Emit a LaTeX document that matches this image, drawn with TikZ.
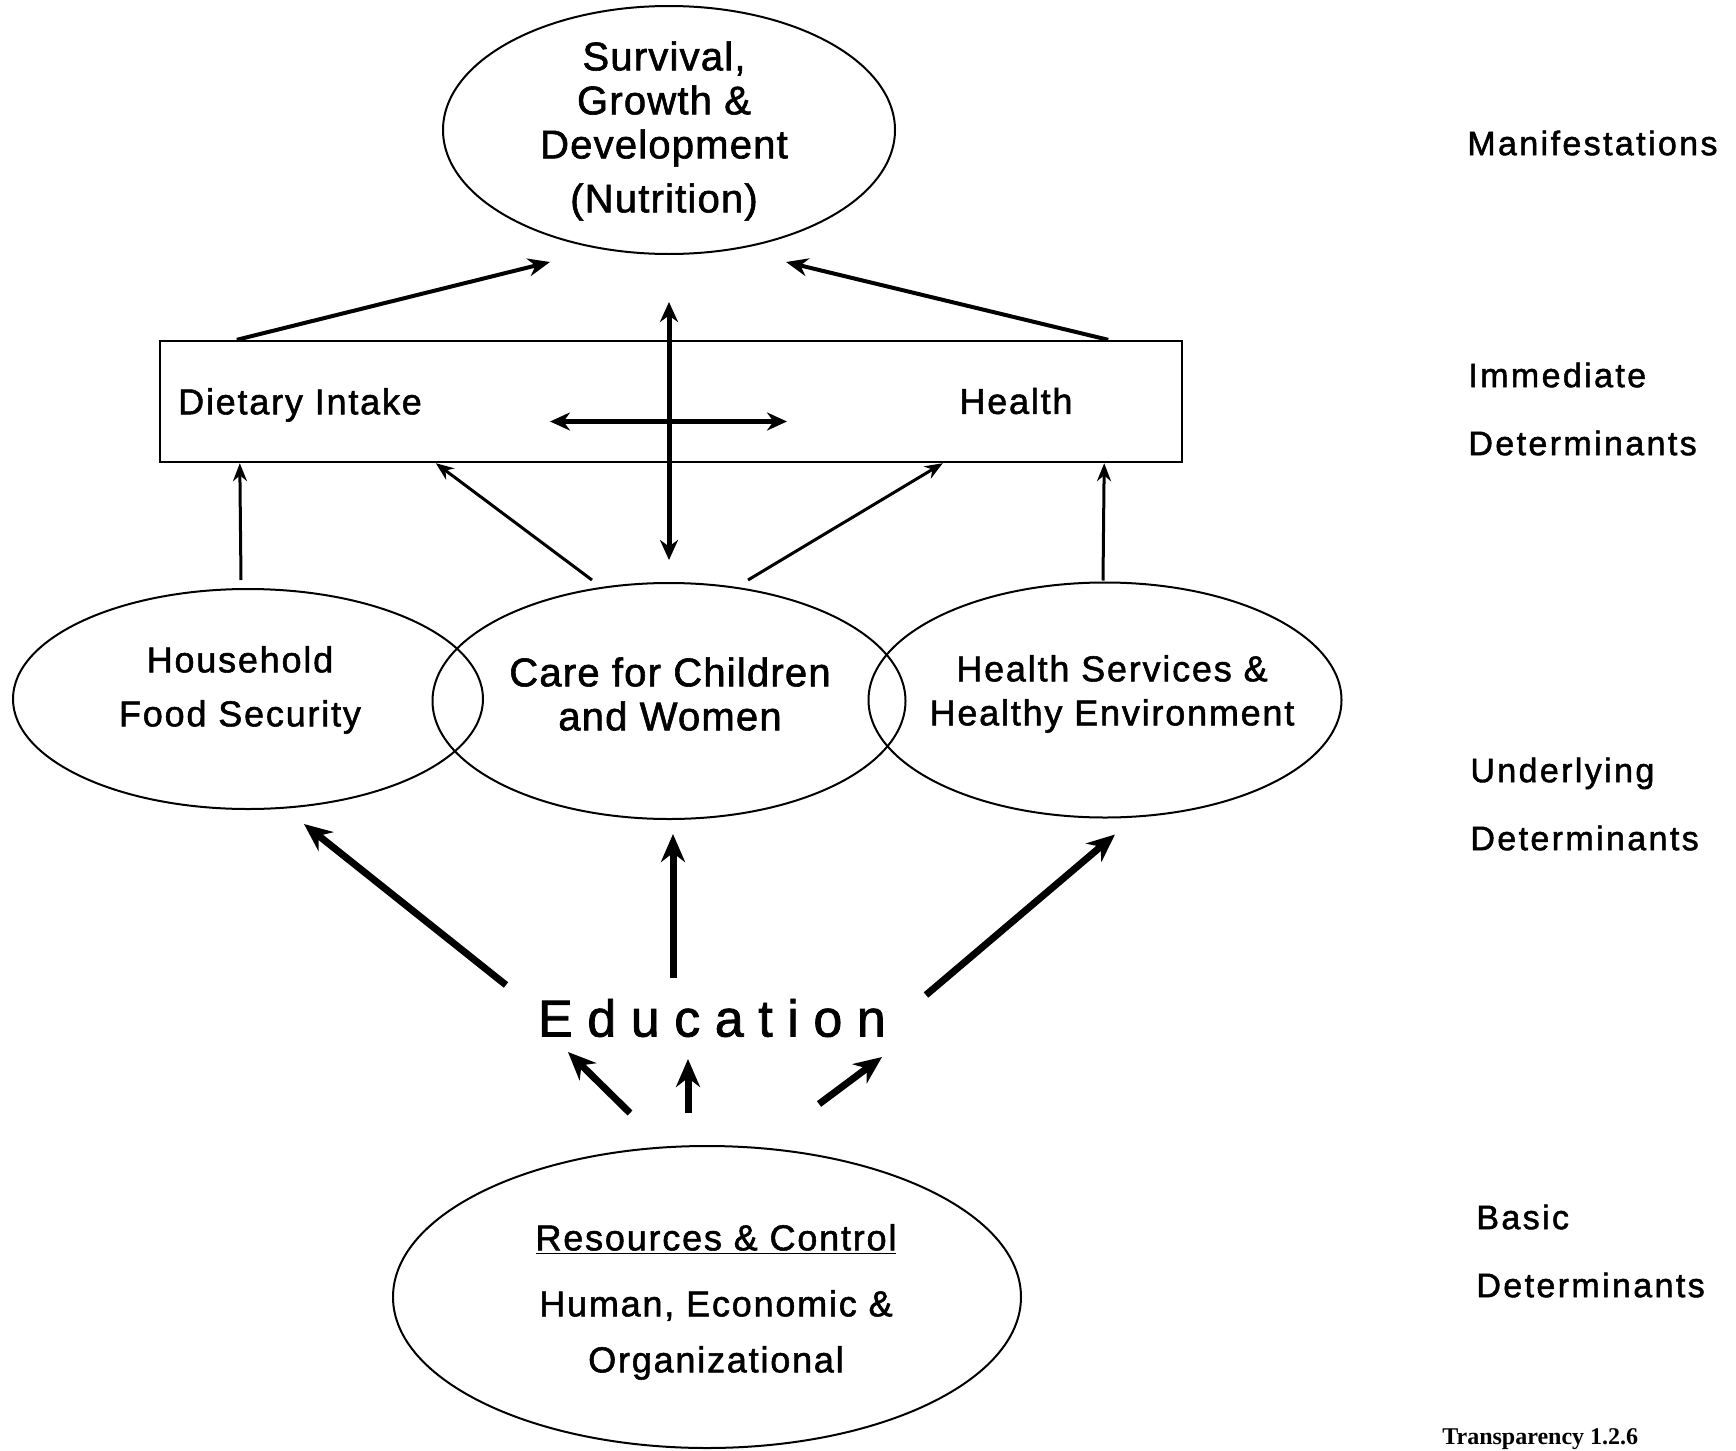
\documentclass[tikz,border=0pt]{standalone}
\usepackage{fontspec}
\setmainfont{Liberation Sans}
\newfontfamily\serifnote{Liberation Serif}
\usetikzlibrary{shapes.geometric,arrows.meta}

\begin{document}
\begin{tikzpicture}[x=0.5pt, y=-0.5pt,
  oval/.style={ellipse, draw, line width=1pt, inner sep=0pt},
  txt/.style={align=center, font=\fontsize{18}{22}\selectfont\addfontfeatures{LetterSpace=5,FakeBold=1.5}},
  bigtxt/.style={align=center, font=\fontsize{20}{22}\selectfont\addfontfeatures{LetterSpace=3,FakeBold=1.5}},
  lvltxt/.style={anchor=west, align=left, inner sep=0pt, font=\fontsize{17}{34}\selectfont\addfontfeatures{LetterSpace=7,FakeBold=1.5}},
  arr/.style={-{Stealth[length=11pt,width=9pt]}, line width=2pt},
  thinarr/.style={-{Stealth[length=9pt,width=7pt]}, line width=1.5pt},
  fatarr/.style={-{Stealth[length=14pt,width=12pt]}, line width=3.5pt},
  dblarr/.style={{Stealth[length=10pt,width=9pt]}-{Stealth[length=10pt,width=9pt]}, line width=2.5pt}]
  \useasboundingbox (0,0) rectangle (1736,1451);

  % Manifestations
  \node[oval, minimum width=226pt, minimum height=124pt] (top) at (669,130) {};
  \node[bigtxt] (toptxt) at (664,131) {Survival,\\Growth \&\\Development\\[5pt](Nutrition)};

  % Immediate determinants
  \node[draw, line width=1.2pt, inner sep=0pt, minimum width=511pt, minimum height=60.5pt] (imm) at (671,401.5) {};
  \node[txt] (diet) at (300,405) {Dietary Intake};
  \node[txt] (hlth) at (1016,401) {Health};

  % Underlying determinants
  \node[oval, minimum width=235pt, minimum height=110pt] (hfs) at (248,699) {};
  \node[oval, minimum width=236.5pt, minimum height=118pt] (care) at (669,701) {};
  \node[oval, minimum width=236.5pt, minimum height=117.5pt] (hse) at (1105,700) {};
  \node[txt] (hfstxt) at (240,690) {Household\\[5pt]Food Security};
  \node[bigtxt] (caretxt) at (670,694) {Care for Children\\and Women};
  \node[txt] (hsetxt) at (1112,694) {Health Services \&\\Healthy Environment};

  % Basic determinants
  \node[font=\fontsize{26}{26}\selectfont\addfontfeatures{LetterSpace=28,FakeBold=1.5}] (edu) at (712,1018) {Education};
  \node[oval, minimum width=314pt, minimum height=151pt] (res) at (707,1297) {};
  \node[txt] (restxt) at (716,1302) {\underline{Resources \& Control}\\[11pt]Human, Economic \&\\[6pt]Organizational};

  % Level labels
  \node[lvltxt] (manif) at (1467,143) {Manifestations};
  \node[lvltxt] (immlbl) at (1468,409) {Immediate\\Determinants};
  \node[lvltxt] (undlbl) at (1470,804) {Underlying\\Determinants};
  \node[lvltxt] (baslbl) at (1476,1251) {Basic\\Determinants};
  \node[anchor=west, inner sep=0pt, font=\serifnote\bfseries\fontsize{12}{14}\selectfont] (trans) at (1442,1439) {Transparency 1.2.6};

  % Arrows
  \draw[arr] ([xshift=39pt]imm.north west) -- ([xshift=-59.5pt,yshift=-3.5pt]top.south);
  \draw[arr] ([xshift=-37.5pt]imm.north east) -- ([xshift=58.5pt,yshift=-3.5pt]top.south);
  \draw[dblarr] ([yshift=11pt]care.north) -- ([yshift=-23.5pt]top.south);
  \draw[dblarr] ([xshift=-60.5pt,yshift=-10pt]imm.center) -- ([xshift=58pt,yshift=-10pt]imm.center);
  \draw[thinarr] ([xshift=-3.5pt,yshift=4pt]hfs.north) -- ([xshift=40.5pt]imm.south west);
  \draw[thinarr] ([xshift=-38.5pt,yshift=1pt]care.north) -- ([xshift=138.5pt]imm.south west);
  \draw[thinarr] ([xshift=39.5pt,yshift=1pt]care.north) -- ([xshift=392pt]imm.south west);
  \draw[thinarr] ([xshift=-1pt,yshift=0.5pt]hse.north) -- ([xshift=-39.5pt]imm.south east);
  \draw[fatarr] ([xshift=-103pt,yshift=16.5pt]edu.center) -- ([xshift=28pt,yshift=-7pt]hfs.south);
  \draw[fatarr] ([xshift=-19.5pt,yshift=20pt]edu.center) -- ([xshift=2pt,yshift=-7pt]care.south);
  \draw[fatarr] ([xshift=107pt,yshift=11.5pt]edu.center) -- ([xshift=5pt,yshift=-8pt]hse.south);
  \draw[fatarr] ([xshift=-38.5pt,yshift=16pt]res.north) -- ([xshift=-72pt,yshift=-17pt]edu.center);
  \draw[fatarr] ([xshift=-9.5pt,yshift=16pt]res.north) -- ([xshift=-12pt,yshift=-20.5pt]edu.center);
  \draw[fatarr] ([xshift=56pt,yshift=20.5pt]res.north) -- ([xshift=85pt,yshift=-19.5pt]edu.center);
\end{tikzpicture}
\end{document}
